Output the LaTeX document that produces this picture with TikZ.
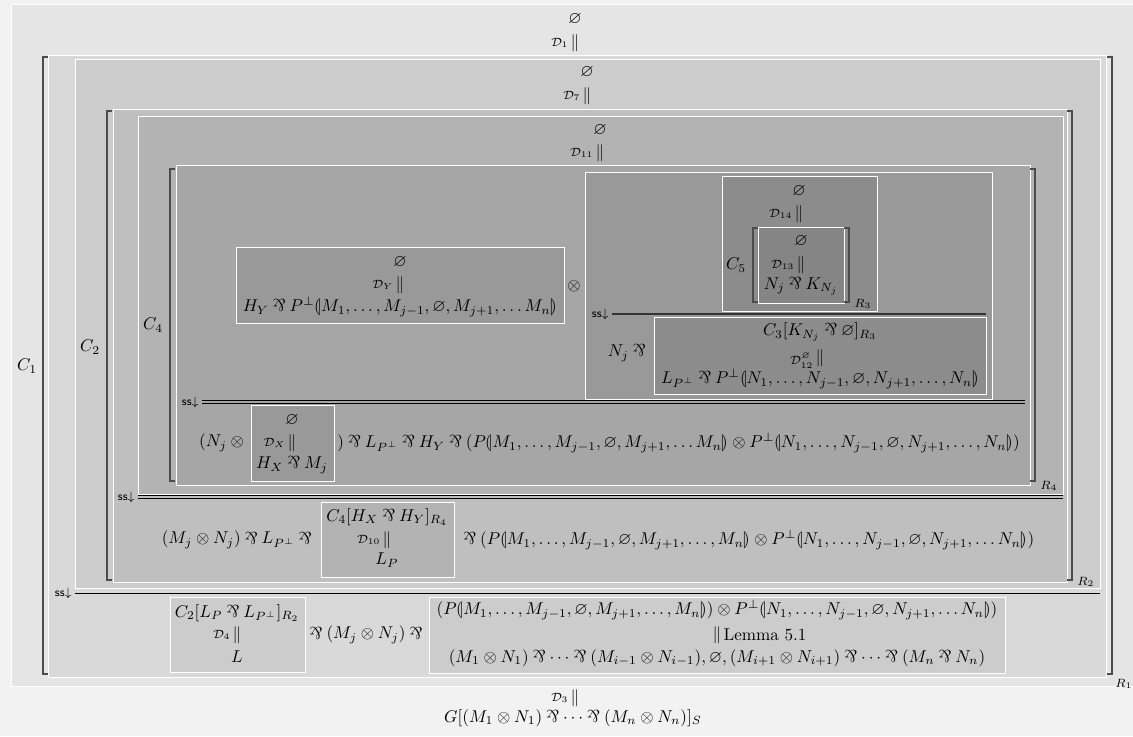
\documentclass[tikz,border=0pt]{standalone}
\usepackage{amsmath,amssymb}
\usepackage{stmaryrd}
\newcommand{\Parr}{\mathbin{\rotatebox[origin=c]{180}{\&}}}
\newcommand{\LB}{\llparenthesis}
\newcommand{\RB}{\rrparenthesis}
\definecolor{g0}{HTML}{F2F2F2}
\definecolor{g1}{HTML}{E5E5E5}
\definecolor{g2}{HTML}{D9D9D9}
\definecolor{g3}{HTML}{CCCCCC}
\definecolor{g4}{HTML}{BFBFBF}
\definecolor{g5}{HTML}{B3B3B3}
\definecolor{g6}{HTML}{A6A6A6}
\definecolor{g7}{HTML}{999999}
\definecolor{g8}{HTML}{8C8C8C}
\definecolor{g9}{HTML}{858585}
\newcommand{\LBr}[3]{\draw[brk] (#1+5,#2) -- (#1,#2) -- (#1,#3) -- (#1+5,#3);}
\newcommand{\RBr}[3]{\draw[brk] (#1-5,#2) -- (#1,#2) -- (#1,#3) -- (#1-5,#3);}
\newcommand{\DRule}[3]{\draw[srule] (#1,#3-1.6) -- (#2,#3-1.6); \draw[srule] (#1,#3+1.6) -- (#2,#3+1.6);}
\begin{document}
\begin{tikzpicture}[x=0.585pt,y=-0.585pt,
  tx/.style={inner sep=0pt},
  bx/.style={draw=white,line width=0.5pt},
  brk/.style={draw=black!70,line width=0.6pt},
  srule/.style={draw=black,line width=0.5pt},
  ssl/.style={inner sep=0pt,anchor=east,font=\sffamily\scriptsize},
  dl/.style={inner sep=0pt,anchor=east}]
\useasboundingbox (0,0) rectangle (1133,736);
\fill[g0] (0,0) rectangle (1133,736);
% boxes
\path[bx,fill=g1] (11,4) rectangle (1140,686);
\path[bx,fill=g2] (48,55) rectangle (1106,677);
\path[bx,fill=g3] (75,59) rectangle (1100,588);
\path[bx,fill=g4] (113,109) rectangle (1067,582);
\path[bx,fill=g5] (138,116) rectangle (1063,494);
\path[bx,fill=g6] (176,165) rectangle (1030,485);
\path[bx,fill=g7] (236,247) rectangle (564,323);
\path[bx,fill=g7] (585,172) rectangle (992,399);
\path[bx,fill=g8] (722,176) rectangle (877,311);
\path[bx,fill=g9] (758,227) rectangle (844,303);
\path[bx,fill=g8] (654,317) rectangle (986,394);
\path[bx,fill=g7] (251,405) rectangle (334,481);
\path[bx,fill=g5] (321,502) rectangle (454,577);
\path[bx,fill=g3] (170,597) rectangle (305,672);
\path[bx,fill=g3] (429,597) rectangle (1005,673);
% brackets
\LBr{43}{57}{674}
\RBr{1112}{57}{674}
\LBr{107}{111}{580}
\RBr{1072}{111}{580}
\LBr{170}{169}{481}
\RBr{1035}{169}{481}
\LBr{753}{228}{302}
\RBr{849}{228}{302}
\node[tx] (c1) at (27,366) {$C_1$};
\node[tx] (c2) at (90,347) {$C_2$};
\node[tx] (c4) at (153,325) {$C_4$};
\node[tx] (c5) at (736,265) {$C_5$};
\node[tx,anchor=west] (r1) at (1115,684) {$\scriptstyle R_1$};
\node[tx,anchor=west] (r2) at (1077,582) {$\scriptstyle R_2$};
\node[tx,anchor=west] (r4) at (1040,486) {$\scriptstyle R_4$};
\node[tx,anchor=west] (r3) at (854,304) {$\scriptstyle R_3$};
% rules
\draw[srule] (75,593) -- (1100,593);
\node[ssl] (ss1) at (72,593) {ss$\downarrow$};
\DRule{138}{1063}{497}
\node[ssl] (ss2) at (135,497) {ss$\downarrow$};
\DRule{202}{1025}{402}
\node[ssl] (ss4) at (199,402) {ss$\downarrow$};
\draw[draw=black!80,line width=0.8pt] (612,314) -- (986,314);
\node[ssl] (ss3) at (609,314) {ss$\downarrow$};
% top
\node[tx] (e1) at (575,19) {$\varnothing$};
\node[tx] (v1) at (575,43) {$\Vert$};
\node[dl] (d1) at ([xshift=-1pt]v1.west) {$\scriptstyle\mathcal{D}_1$};
\node[tx] (e7) at (587,72) {$\varnothing$};
\node[tx] (v7) at (587,96) {$\Vert$};
\node[dl] (d7) at ([xshift=-1pt]v7.west) {$\scriptstyle\mathcal{D}_7$};
\node[tx] (e11) at (600,130) {$\varnothing$};
\node[tx] (v11) at (600,153) {$\Vert$};
\node[dl] (d11) at ([xshift=-1pt]v11.west) {$\scriptstyle\mathcal{D}_{11}$};
% DY box
\node[tx] (eY) at (400,262) {$\varnothing$};
\node[tx] (vY) at (400,285) {$\Vert$};
\node[dl] (dY) at ([xshift=-1pt]vY.west) {$\scriptstyle\mathcal{D}_Y$};
\node[tx] (hY) at (400,307) {$H_Y \Parr P^{\perp}\LB M_1,\ldots,M_{j-1},\varnothing,M_{j+1},\ldots M_n\RB$};
\node[tx] (ot) at (574,286) {$\otimes$};
% C5 box
\node[tx] (e14) at (799,191) {$\varnothing$};
\node[tx] (v14) at (799,214) {$\Vert$};
\node[dl] (d14) at ([xshift=-1pt]v14.west) {$\scriptstyle\mathcal{D}_{14}$};
\node[tx] (e13) at (801,241) {$\varnothing$};
\node[tx] (v13) at (801,265) {$\Vert$};
\node[dl] (d13) at ([xshift=-1pt]v13.west) {$\scriptstyle\mathcal{D}_{13}$};
\node[tx] (nk) at (801,286) {$N_j \Parr K_{N_j}$};
% C3 box
\node[tx,anchor=east] (njp) at (650,353) {$N_j \Parr{}$};
\node[tx] (c3) at (820,332) {$C_3[K_{N_j}\Parr\varnothing]_{R_3}$};
\node[tx] (v12) at (820,358) {$\Vert$};
\node[dl] (d12) at ([xshift=-1pt,yshift=-1.5pt]v12.west) {$\scriptstyle\mathcal{D}^{\varnothing}_{12}$};
\node[tx] (lp) at (820,379) {$L_{P^\perp}\Parr P^\perp\LB N_1,\ldots,N_{j-1},\varnothing,N_{j+1},\ldots,N_n\RB$};
% X4 bottom
\node[tx,anchor=east] (njo) at (248,443) {$(N_j \otimes{}$};
\node[tx] (eX) at (292,420) {$\varnothing$};
\node[tx] (vX) at (292,443) {$\Vert$};
\node[dl] (dX) at ([xshift=-1pt]vX.west) {$\scriptstyle\mathcal{D}_X$};
\node[tx] (hX) at (292,465) {$H_X\Parr M_j$};
\node[tx,anchor=west] (x4r) at (337,443) {$)\Parr L_{P^\perp}\Parr H_Y\Parr(P\LB M_1,\ldots,M_{j-1},\varnothing,M_{j+1},\ldots M_n\RB\otimes P^\perp\LB N_1,\ldots,N_{j-1},\varnothing,N_{j+1},\ldots,N_n\RB)$};
% X2 bottom
\node[tx,anchor=east] (x2l) at (316,540) {$(M_j\otimes N_j)\Parr L_{P^\perp}\Parr{}$};
\node[tx] (c4h) at (387,517) {$C_4[H_X\Parr H_Y]_{R_4}$};
\node[tx] (v10) at (387,540) {$\Vert$};
\node[dl] (d10) at ([xshift=-1pt]v10.west) {$\scriptstyle\mathcal{D}_{10}$};
\node[tx] (lP) at (387,560) {$L_P$};
\node[tx,anchor=west] (x2r) at (459,540) {${}\Parr(P\LB M_1,\ldots,M_{j-1},\varnothing,M_{j+1},\ldots,M_n\RB\otimes P^\perp\LB N_1,\ldots,N_{j-1},\varnothing,N_{j+1},\ldots N_n\RB)$};
% X1 bottom
\node[tx] (c2l) at (237,613) {$C_2[L_P\Parr L_{P^\perp}]_{R_2}$};
\node[tx] (v4) at (237,635) {$\Vert$};
\node[dl] (d4) at ([xshift=-1pt]v4.west) {$\scriptstyle\mathcal{D}_4$};
\node[tx] (lL) at (237,657) {$L$};
\node[tx] (mid) at (366,635) {${}\Parr(M_j\otimes N_j)\Parr{}$};
\node[tx] (lm1) at (717,610) {$(P\LB M_1,\ldots,M_{j-1},\varnothing,M_{j+1},\ldots,M_n\RB)\otimes P^\perp\LB N_1,\ldots,N_{j-1},\varnothing,N_{j+1},\ldots N_n\RB)$};
\node[tx] (vlm) at (717,635) {$\Vert$};
\node[tx,anchor=west] (lmt) at ([xshift=1pt]vlm.east) {Lemma 5.1};
\node[tx] (lm3) at (717,658) {$(M_1\otimes N_1)\Parr\cdots\Parr(M_{i-1}\otimes N_{i-1}),\varnothing,(M_{i+1}\otimes N_{i+1})\Parr\cdots\Parr(M_n\Parr N_n)$};
% bottom
\node[tx] (v3) at (575,698) {$\Vert$};
\node[dl] (d3) at ([xshift=-1pt]v3.west) {$\scriptstyle\mathcal{D}_3$};
\node[tx] (g) at (573,718) {$G[(M_1\otimes N_1)\Parr\cdots\Parr(M_n\otimes N_n)]_S$};
\end{tikzpicture}
\end{document}
